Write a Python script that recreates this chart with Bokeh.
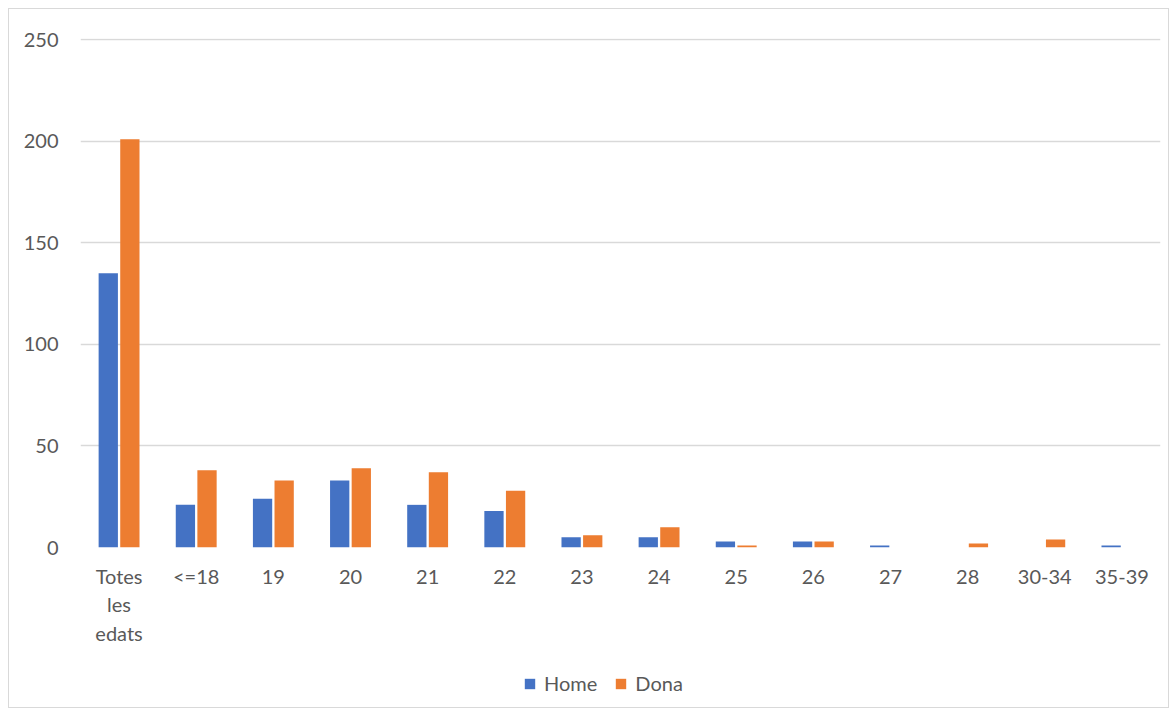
from bokeh.plotting import figure
from bokeh.layouts import column
from bokeh.models import ColumnDataSource, FactorRange, Legend, LegendItem
from bokeh.transform import dodge
from bokeh.embed import file_html
from bokeh.resources import INLINE

categories = ["Totes\nles\nedats", "<=18", "19", "20", "21", "22", "23", "24", "25", "26", "27", "28", "30-34", "35-39"]
home = [135, 21, 24, 33, 21, 18, 5, 5, 3, 3, 1, 0, 0, 1]
dona = [201, 38, 33, 39, 37, 28, 6, 10, 1, 3, 0, 2, 4, 0]
y_ticks = [0, 50, 100, 150, 200, 250]
series_names = ["Home", "Dona"]
series_colors = ["#4472C4", "#ED7D31"]

source = ColumnDataSource(dict(cat=categories, home=home, dona=dona))

FONT = "Lato"
TXT = "#595959"
FS = "20px"

p = figure(x_range=FactorRange(*categories, range_padding=0), y_range=(0, 250.6),
           frame_width=1080, frame_height=509, output_backend="svg", toolbar_location=None,
           min_border_left=71, min_border_right=8, min_border_top=29, min_border_bottom=100)
p.outline_line_color = None

r1 = p.vbar(x=dodge("cat", -0.14, range=p.x_range), top="home", width=0.25, source=source,
            fill_color=series_colors[0], line_color=None)
r2 = p.vbar(x=dodge("cat", 0.14, range=p.x_range), top="dona", width=0.25, source=source,
            fill_color=series_colors[1], line_color=None)

p.yaxis.ticker = y_ticks
p.yaxis.axis_line_color = None
p.yaxis.major_tick_line_color = None
p.yaxis.minor_tick_line_color = None
p.yaxis.major_label_text_font = FONT
p.yaxis.major_label_text_font_size = FS
p.yaxis.major_label_text_color = TXT
p.yaxis.major_label_standoff = 16

p.xaxis.axis_line_color = None
p.xaxis.major_tick_line_color = None
p.xaxis.major_label_text_font = FONT
p.xaxis.major_label_text_font_size = FS
p.xaxis.major_label_text_color = TXT
p.xaxis.major_label_standoff = 10

p.xgrid.grid_line_color = None
p.ygrid.grid_line_color = "#d9d9d9"
p.ygrid.grid_line_width = 1.5

# legend strip (its proxy glyphs sit outside the visible range)
p2 = figure(width=1159, height=59, x_range=(0, 1), y_range=(0, 1), output_backend="svg",
            toolbar_location=None, min_border=0,
            background_fill_color="white", border_fill_color="white")
p2.outline_line_color = None
p2.axis.visible = False
p2.grid.visible = False
proxy = ColumnDataSource(dict(x=[-50], top=[-50]))
lr1 = p2.vbar(x="x", top="top", bottom=-60, width=0.1, source=proxy, fill_color=series_colors[0], line_color=None)
lr2 = p2.vbar(x="x", top="top", bottom=-60, width=0.1, source=proxy, fill_color=series_colors[1], line_color=None)
legend = Legend(items=[LegendItem(label=series_names[0], renderers=[lr1]),
                       LegendItem(label=series_names[1], renderers=[lr2])],
                orientation="horizontal", location=(443, 12), border_line_color=None,
                background_fill_alpha=0, padding=0, margin=0,
                label_text_font=FONT, label_text_font_size=FS, label_text_color=TXT,
                glyph_width=13, glyph_height=13, spacing=17, label_standoff=8)
p2.add_layout(legend, "center")

layout = column(p, p2, spacing=0, margin=(8, 0, 0, 8),
                styles={"border": "1px solid #d9d9d9"})

open("out.html", "w").write(file_html(layout, INLINE))
